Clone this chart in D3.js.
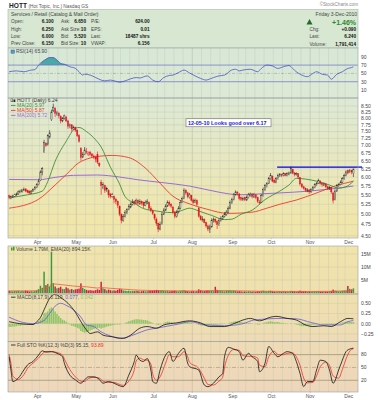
<!DOCTYPE html>
<html>
<head>
<meta charset="utf-8">
<script src="https://cdn.jsdelivr.net/npm/d3@7"></script>
<style>
  body { margin: 0; background: #fff; }
  text { font-family: "Liberation Sans", Arial, sans-serif; }
</style>
</head>
<body>
<svg id="chart" width="380" height="400"></svg>
<script>
// ---- calendar / categories ----
const firstDay = [2010, 2, 10], lastDay = [2010, 11, 3];
const holidays = ["2010-04-02", "2010-05-31", "2010-07-05", "2010-09-06", "2010-11-25"];
const monthLabels = ["Apr", "May", "Jun", "Jul", "Aug", "Sep", "Oct", "Nov", "Dec"];

// ---- daily OHLC (HOTT) ----
const closes = [5.42,5.45,5.47,5.50,5.52,5.58,5.60,5.63,5.65,5.60,
5.57,5.55,5.60,5.65,5.70,5.78,5.88,6.15,6.25,7.10,
7.00,7.35,7.45,8.25,8.45,8.20,8.22,8.10,7.90,8.00,
8.10,7.90,7.70,7.75,7.60,7.65,7.55,7.35,7.15,6.60,
6.70,6.85,6.80,6.75,6.70,6.65,6.62,6.55,6.45,6.35,
5.75,5.78,5.62,5.65,5.50,5.45,5.50,5.38,5.32,5.22,
5.00,4.85,4.95,5.05,5.12,5.20,5.25,5.30,5.27,5.35,
5.28,5.32,5.28,5.22,5.30,5.33,5.15,5.10,5.02,4.90,
4.78,4.65,4.75,5.00,5.10,5.20,5.30,5.25,5.20,5.05,
4.95,5.05,5.15,5.30,5.40,5.62,5.55,5.45,5.50,5.35,
5.30,5.35,5.25,4.95,4.87,4.88,4.80,4.72,4.65,4.70,
4.85,4.88,4.82,4.75,4.85,4.90,4.95,5.00,5.05,5.15,
5.30,5.38,5.50,5.58,5.55,5.40,5.38,5.40,5.37,5.42,
5.50,5.52,5.45,5.50,5.42,5.32,5.30,5.48,5.65,5.75,
5.82,5.95,6.05,5.88,5.85,5.95,6.05,6.08,6.05,6.10,
6.05,6.10,6.12,6.25,6.12,6.08,6.10,6.00,5.80,5.72,
5.68,5.62,5.63,5.58,5.65,5.70,5.78,5.82,5.90,5.82,
5.78,5.80,5.72,5.68,5.70,5.58,5.35,5.60,5.75,5.78,
5.85,5.95,6.05,6.15,6.12,6.18,6.15,6.24];
const opens = [5.48,5.40,5.44,5.46,5.50,5.52,5.56,5.58,5.62,5.66,
5.62,5.60,5.54,5.60,5.64,5.70,5.78,5.90,6.15,6.80,
7.08,7.05,7.30,7.95,8.30,8.40,8.15,8.20,8.08,7.90,
8.00,8.05,7.90,7.68,7.75,7.58,7.65,7.55,7.35,6.90,
6.62,6.70,6.78,6.70,6.78,6.72,6.65,6.62,6.70,6.42,
5.85,5.70,5.75,5.68,5.62,5.52,5.45,5.45,5.38,5.32,
5.20,5.00,4.85,4.95,5.05,5.12,5.18,5.25,5.32,5.28,
5.35,5.26,5.32,5.30,5.22,5.28,5.30,5.15,5.08,5.00,
4.88,4.78,4.65,4.78,5.00,5.10,5.20,5.30,5.25,5.18,
5.05,4.95,5.05,5.15,5.30,5.40,5.62,5.55,5.42,5.48,
5.36,5.30,5.35,5.15,4.95,4.85,4.88,4.80,4.72,4.65,
4.70,4.85,4.88,4.82,4.75,4.85,4.90,4.95,5.00,5.05,
5.15,5.30,5.38,5.50,5.56,5.52,5.42,5.36,5.42,5.36,
5.42,5.48,5.52,5.44,5.50,5.42,5.30,5.30,5.48,5.65,
5.75,5.82,5.95,6.02,5.90,5.85,5.95,6.05,6.08,6.05,
6.10,6.05,6.08,6.12,6.22,6.12,6.08,6.10,5.98,5.80,
5.72,5.68,5.60,5.63,5.58,5.65,5.70,5.78,5.82,5.88,
5.82,5.76,5.80,5.72,5.66,5.70,5.55,5.38,5.60,5.75,
5.78,5.85,5.95,6.05,6.20,6.18,6.20,6.10];
const highs = [5.50,5.48,5.50,5.53,5.56,5.62,5.64,5.66,5.70,5.68,
5.64,5.62,5.63,5.68,5.74,5.82,5.95,6.20,6.30,7.20,
7.12,7.40,7.55,8.35,8.60,8.45,8.30,8.25,8.12,8.05,
8.15,8.10,7.95,7.80,7.78,7.72,7.68,7.58,7.40,6.95,
6.78,6.95,6.92,6.80,6.82,6.75,6.70,6.66,6.80,6.45,
5.92,5.85,5.78,5.72,5.65,5.55,5.55,5.48,5.42,5.35,
5.22,5.02,5.00,5.10,5.15,5.25,5.30,5.38,5.35,5.40,
5.38,5.38,5.35,5.32,5.35,5.38,5.32,5.20,5.12,5.02,
4.92,4.80,4.82,5.05,5.15,5.25,5.35,5.35,5.28,5.20,
5.08,5.10,5.20,5.35,5.45,5.68,5.65,5.58,5.55,5.50,
5.40,5.40,5.38,5.18,4.98,4.95,4.90,4.82,4.75,4.75,
4.90,4.92,4.90,4.85,4.90,4.95,4.98,5.05,5.10,5.20,
5.35,5.42,5.55,5.62,5.60,5.55,5.45,5.45,5.45,5.48,
5.55,5.56,5.55,5.55,5.52,5.45,5.36,5.52,5.70,5.80,
5.85,6.00,6.12,6.05,5.95,6.00,6.10,6.12,6.10,6.14,
6.12,6.14,6.16,6.32,6.25,6.15,6.14,6.12,6.00,5.82,
5.75,5.70,5.68,5.66,5.68,5.74,5.82,5.86,5.95,5.90,
5.84,5.84,5.82,5.75,5.74,5.72,5.58,5.65,5.80,5.82,
5.90,6.00,6.10,6.20,6.22,6.24,6.22,6.25];
const lows = [5.38,5.38,5.42,5.44,5.47,5.50,5.54,5.56,5.60,5.57,
5.54,5.52,5.52,5.58,5.62,5.68,5.76,5.88,6.05,6.75,
6.95,7.00,7.25,7.90,8.25,8.05,8.10,8.00,7.80,7.85,
7.95,7.85,7.60,7.62,7.50,7.55,7.48,7.30,7.10,6.50,
6.58,6.68,6.72,6.65,6.65,6.60,6.55,6.45,6.40,6.30,
5.50,5.65,5.55,5.58,5.42,5.40,5.42,5.28,5.25,5.15,
4.95,4.78,4.82,4.92,5.00,5.10,5.15,5.22,5.22,5.25,
5.22,5.24,5.22,5.15,5.20,5.25,5.10,5.05,4.98,4.85,
4.72,4.58,4.62,4.75,4.98,5.08,5.18,5.20,5.15,5.00,
4.90,4.92,5.02,5.12,5.28,5.38,5.50,5.40,5.40,5.32,
5.26,5.28,5.20,4.92,4.85,4.82,4.78,4.68,4.60,4.56,
4.68,4.80,4.78,4.65,4.72,4.82,4.86,4.92,4.96,5.02,
5.12,5.26,5.35,5.48,5.48,5.35,5.33,5.35,5.33,5.34,
5.40,5.45,5.40,5.42,5.38,5.28,5.25,5.28,5.45,5.60,
5.70,5.80,5.92,5.85,5.82,5.82,5.92,6.00,6.00,6.02,
6.02,6.02,6.05,6.10,6.08,6.02,6.04,5.95,5.75,5.68,
5.64,5.58,5.57,5.52,5.55,5.62,5.68,5.75,5.80,5.78,
5.72,5.74,5.68,5.64,5.64,5.52,5.27,5.35,5.58,5.72,
5.76,5.82,5.92,6.02,6.08,6.12,6.08,6.00];
// daily volume, millions of shares
const volumes = [0.9,0.7,0.6,0.8,0.7,0.9,0.6,0.8,0.7,0.9,
0.8,0.6,0.7,0.6,0.8,1.0,1.5,2.8,2.0,8.2,
3.0,3.5,2.5,15.9,3.8,2.5,1.8,2.0,2.4,1.6,
1.5,2.2,1.8,1.3,1.5,1.2,1.4,1.5,1.7,3.7,
2.0,1.5,1.2,1.0,1.1,1.0,0.9,1.1,1.4,1.2,
4.3,1.8,1.5,1.0,1.3,1.1,0.9,1.0,0.9,1.2,
1.6,1.4,1.0,0.9,0.8,0.9,0.7,0.8,0.7,0.9,
0.8,0.6,0.7,0.8,0.6,0.7,0.9,0.8,0.9,1.0,
1.2,1.1,0.9,1.0,0.8,0.7,0.8,0.6,0.7,0.8,
0.9,0.7,0.6,0.8,0.9,1.1,0.8,0.7,0.6,0.7,
0.8,0.6,0.7,1.4,1.1,0.8,0.7,0.9,1.0,0.8,
0.9,0.7,2.4,1.2,0.9,0.8,0.7,0.6,0.8,0.9,
1.0,0.8,0.9,0.8,0.6,0.7,0.6,0.5,0.6,0.5,
0.7,0.6,0.5,0.6,0.5,0.7,0.6,0.8,0.9,0.7,
0.6,0.8,0.9,0.7,0.6,0.5,0.7,0.6,0.5,0.6,
0.5,0.6,0.5,0.8,0.7,0.6,0.5,0.6,0.9,0.7,
0.6,0.7,0.5,0.6,0.5,0.6,0.5,0.6,0.7,0.5,
0.6,0.5,0.6,0.5,0.6,0.8,1.3,0.9,0.8,0.6,
0.7,0.8,0.9,1.0,2.7,1.6,1.4,1.79];
// MACD histogram, daily
const macdHist = [-0.08,-0.08,-0.07,-0.07,-0.06,-0.05,-0.05,-0.04,-0.03,-0.03,
-0.02,-0.02,-0.02,-0.02,0.00,0.03,0.07,0.10,0.15,0.26,
0.27,0.30,0.37,0.40,0.36,0.30,0.24,0.19,0.14,0.10,
0.08,0.05,0.02,-0.02,-0.05,-0.06,-0.08,-0.10,-0.12,-0.18,
-0.20,-0.22,-0.21,-0.19,-0.17,-0.15,-0.13,-0.11,-0.10,-0.10,
-0.12,-0.10,-0.09,-0.07,-0.06,-0.05,-0.04,-0.03,-0.02,-0.02,
-0.02,-0.01,0.00,0.02,0.04,0.06,0.07,0.09,0.10,0.11,
0.11,0.10,0.10,0.09,0.09,0.08,0.06,0.04,0.02,0.00,
-0.02,-0.03,-0.02,0.00,0.02,0.04,0.05,0.05,0.04,0.03,
0.02,0.02,0.03,0.04,0.05,0.06,0.05,0.04,0.03,0.02,
0.01,0.00,-0.01,-0.03,-0.04,-0.05,-0.05,-0.05,-0.05,-0.04,
-0.03,-0.03,-0.03,-0.03,-0.02,-0.02,-0.01,-0.01,0.00,0.01,
0.03,0.04,0.05,0.06,0.06,0.05,0.04,0.03,0.03,0.02,
0.02,0.02,0.01,0.00,-0.01,-0.02,-0.02,0.00,0.02,0.03,
0.04,0.05,0.06,0.05,0.04,0.04,0.04,0.03,0.02,0.02,
0.01,0.01,0.00,0.01,0.00,-0.01,-0.02,-0.03,-0.05,-0.06,
-0.06,-0.06,-0.05,-0.05,-0.04,-0.03,-0.02,-0.01,0.00,0.00,
-0.01,-0.01,-0.02,-0.02,-0.02,-0.03,-0.05,-0.03,-0.01,0.00,
0.02,0.03,0.04,0.05,0.05,0.05,0.04,0.042];

// ---- indicator readings: [day index, value] ----
const ma20 = [[0,5.42],[10,5.5],[18,5.6],[21,5.87],[25,6.48],[31,7.15],[36,7.62],[38,7.65],[42,7.5],[47,7.2],[50,6.95],[55,6.3],[60,5.8],[63,5.45],[68,5.28],[73,5.14],[80,5.08],[88,5.04],[93,5.08],[98,5.15],[103,5.08],[110,4.97],[117,4.87],[121,4.88],[126,5.0],[132,5.1],[139,5.37],[147,5.6],[152,5.77],[156,5.96],[161,5.94],[167,5.88],[174,5.77],[179,5.68],[183,5.72],[187,5.88]];
const ma50 = [[0,5.15],[16,5.38],[25,5.77],[31,6.07],[38,6.44],[50,6.65],[56,6.67],[65,6.6],[74,6.27],[82,5.82],[89,5.46],[98,5.26],[107,5.13],[119,5.02],[132,5.05],[140,5.15],[147,5.25],[156,5.36],[166,5.53],[177,5.74],[187,5.88]];
const ma200 = [[0,5.93],[16,5.92],[25,5.99],[35,6.05],[48,6.06],[60,6.0],[70,5.92],[83,5.84],[98,5.74],[114,5.57],[125,5.5],[135,5.52],[147,5.55],[163,5.6],[175,5.66],[187,5.74]];
const volEma = [[0,0.8],[15,0.85],[18,1.3],[19,1.9],[22,2.2],[23,3.5],[26,3.4],[32,2.9],[38,2.5],[42,2.4],[48,1.9],[50,2.1],[55,1.8],[62,1.5],[70,1.1],[80,0.95],[90,0.85],[100,0.8],[112,0.95],[120,0.9],[135,0.7],[150,0.62],[165,0.6],[176,0.68],[185,0.85],[187,0.894]];
const rsi = [[0,54],[4,56],[8,54],[12,58],[14,59],[16,70],[18,78],[20,84],[22,88],[24,88],[26,82],[28,74],[30,72],[33,66],[36,62],[38,54],[40,46],[41,48],[44,46],[47,40],[50,34],[52,32],[55,34],[58,31],[60,29],[63,32],[66,37],[69,40],[71,39],[75,44],[78,34],[81,30],[84,40],[87,45],[89,46],[92,52],[95,58],[98,51],[101,44],[104,38],[107,34],[108,35],[111,40],[114,44],[117,46],[119,52],[120,56],[123,60],[125,56],[127,58],[131,60],[135,54],[137,62],[140,70],[143,68],[146,62],[149,66],[152,69],[154,62],[156,54],[159,46],[162,42],[165,50],[167,54],[170,48],[173,46],[175,36],[178,48],[181,54],[184,62],[186,64],[187,65.9]];
const macdLine = [[0,0.05],[6,0.0],[13,-0.02],[15,0.05],[17,0.15],[19,0.34],[22,0.62],[25,0.72],[28,0.64],[32,0.5],[36,0.28],[39,0.05],[42,-0.15],[44,-0.24],[48,-0.2],[51,-0.28],[56,-0.32],[62,-0.36],[66,-0.28],[71,-0.11],[75,-0.07],[80,-0.11],[84,-0.03],[91,0.02],[98,0.07],[104,0.02],[109,-0.07],[117,-0.07],[122,0.0],[127,0.09],[131,0.13],[136,0.07],[142,0.16],[145,0.18],[151,0.13],[156,0.09],[161,-0.03],[165,-0.07],[171,-0.05],[175,-0.07],[180,0.05],[184,0.13],[187,0.119]];
const macdSignal = [[0,0.16],[6,0.05],[13,0.0],[19,0.08],[22,0.25],[25,0.43],[28,0.5],[31,0.45],[35,0.34],[39,0.16],[42,-0.03],[46,-0.07],[50,-0.2],[55,-0.3],[60,-0.36],[64,-0.33],[69,-0.25],[75,-0.15],[80,-0.11],[86,-0.06],[93,0.0],[98,0.05],[107,-0.03],[117,-0.05],[127,0.0],[133,0.09],[149,0.13],[156,0.12],[164,0.03],[171,-0.03],[180,-0.03],[184,0.05],[187,0.077]];
const stoK = [[0,75],[1,44],[2,17],[5,25],[8,44],[10,56],[13,64],[16,79],[18,89],[20,86],[23,87],[26,83],[29,75],[30,60],[33,32],[36,21],[39,13],[41,21],[43,28],[46,28],[49,22],[51,13],[54,17],[57,13],[59,9],[62,5],[65,32],[68,64],[69,79],[71,67],[73,64],[75,71],[77,44],[78,17],[80,13],[82,44],[85,79],[87,87],[89,64],[92,83],[95,95],[97,60],[98,52],[103,44],[106,9],[108,5],[111,13],[114,28],[116,36],[117,75],[119,97],[122,93],[125,87],[127,67],[130,83],[132,75],[135,64],[136,40],[139,60],[141,99],[144,83],[146,75],[149,83],[151,87],[154,83],[156,64],[158,36],[160,5],[162,17],[165,17],[167,44],[169,67],[172,64],[174,44],[176,13],[179,44],[181,67],[183,87],[185,93],[187,95.15]];
const stoD = [[0,80],[1,60],[2,30],[5,22],[8,33],[10,48],[13,60],[16,72],[18,82],[20,87],[23,87],[26,85],[29,79],[30,70],[33,45],[36,28],[39,18],[41,17],[43,24],[46,27],[49,25],[51,18],[54,15],[57,15],[59,12],[62,8],[65,18],[68,45],[69,65],[71,72],[73,68],[75,67],[77,58],[78,35],[80,20],[82,28],[85,60],[87,80],[89,75],[92,75],[95,87],[97,75],[98,62],[103,48],[106,25],[108,10],[111,9],[114,18],[116,27],[117,50],[119,78],[122,92],[125,90],[127,78],[130,76],[132,76],[135,72],[136,55],[139,52],[141,75],[144,88],[146,80],[149,80],[151,83],[154,84],[156,75],[158,55],[160,25],[162,14],[165,15],[167,30],[169,52],[172,62],[174,55],[176,30],[179,25],[181,45],[183,70],[185,88],[187,93.89]];

// ---- tick labels ----
const priceTicks = [8.5,8.25,8.0,7.75,7.5,7.25,7.0,6.75,6.5,6.25,6.0,5.75,5.5,5.25,5.0,4.75,4.5];
const rsiTicks = [90,70,50,30,10];
const volTicks = [15,10,5];
const macdTicks = [0.5,0.25,0,-0.25];
const stoTicks = [80,50,20];
const resistance = 6.30, resistanceFrom = 146;

// ---- trading days ----
const fmt = d3.utcFormat("%Y-%m-%d");
const days = d3.utcDay.range(new Date(Date.UTC(...firstDay)), new Date(Date.UTC(...lastDay) + 864e5))
  .filter(d => d.getUTCDay() > 0 && d.getUTCDay() < 6 && !holidays.includes(fmt(d)));
const n = days.length;
const monthStarts = days.map((d, i) => i > 0 && d.getUTCMonth() !== days[i - 1].getUTCMonth() ? i : -1).filter(i => i >= 0);
const weekStarts = days.map((d, i) => i > 0 && d.getUTCDay() <= days[i - 1].getUTCDay() ? i : -1).filter(i => i >= 0);

// ---- layout ----
const L = 8, R = 358, AX = 361;
const P = {
  rsi: [48, 98], price: [98, 238], vol: [246, 294], macd: [294, 341.5], sto: [341.5, 392]
};

const svg = d3.select("#chart");
const defs = svg.append("defs");
const grad = defs.append("linearGradient").attr("id", "bg")
  .attr("gradientUnits", "userSpaceOnUse").attr("x1", 0).attr("y1", 48).attr("x2", 0).attr("y2", 392);
[[0, "#d6e8d6"], [0.15, "#dde9d6"], [0.5, "#f1e6aa"], [0.72, "#efe0ae"], [1, "#eed6bc"]]
  .forEach(s => grad.append("stop").attr("offset", s[0]).attr("stop-color", s[1]));
Object.entries(P).forEach(([k, p]) => {
  defs.append("clipPath").attr("id", "clip-" + k).append("rect")
    .attr("x", L).attr("y", p[0]).attr("width", R - L).attr("height", p[1] - p[0]);
});

const x = d3.scaleBand().domain(d3.range(n)).range([L, 354.5]).padding(0.2);
const bw = x.bandwidth();
const xc = i => x(i) + bw / 2;
const xl = i => x(i) - x.step() * 0.2 / 2;

const yPrice = d3.scaleLog().domain([4.5, 8.5]).range([235.7, 106]);
const yRsi = d3.scaleLinear().domain([0, 100]).range([94.2, 52.6]);
const yVol = d3.scaleLinear().domain([0, 5]).range([293, 280]);
const yMacd = d3.scaleLinear().domain([0, 0.25]).range([323.7, 313.5]);
const ySto = d3.scaleLinear().domain([0, 100]).range([388.8, 346.1]);

// ---- title & header ----
svg.append("text").attr("x", 9).attr("y", 7.5).attr("font-size", 6.6).attr("font-weight", "bold").attr("fill", "#222").text("HOTT");
svg.append("text").attr("x", 28.5).attr("y", 7.5).attr("font-size", 4.8).attr("fill", "#555").text("(Hot Topic, Inc.) Nasdaq GS");
svg.append("text").attr("x", 358).attr("y", 6).attr("text-anchor", "end").attr("font-size", 4.6).attr("fill", "#888").text("\u00a9StockCharts.com");

svg.append("rect").attr("x", L).attr("y", 9.5).attr("width", R - L).attr("height", 38.5)
  .attr("fill", "#d7e7d2").attr("stroke", "#a9b9a6").attr("stroke-width", 0.6);

const hdr = svg.append("g").attr("font-size", 4.7).attr("fill", "#444");
hdr.append("text").attr("x", 11).attr("y", 16).attr("font-size", 5).text("Services / Retail (Catalog & Mail Order)");
const rows = [
  ["Open:", "6.100", "Ask:", "6.650", "P/E:", "624.00"],
  ["High:", "6.250", "Ask Size:", "10", "EPS:", "0.01"],
  ["Low:", "6.000", "Bid:", "5.520", "Last:", "18487 shrs"],
  ["Prev Close:", "6.150", "Bid Size:", "10", "VWAP:", "6.156"]
];
rows.forEach((r, k) => {
  const yy = 23.3 + k * 7.3;
  hdr.append("text").attr("x", 11).attr("y", yy).text(r[0]);
  hdr.append("text").attr("x", 53.5).attr("y", yy).attr("text-anchor", "end").attr("font-weight", "bold").attr("fill", "#111").text(r[1]);
  hdr.append("text").attr("x", 61).attr("y", yy).text(r[2]);
  hdr.append("text").attr("x", 86).attr("y", yy).attr("text-anchor", "end").attr("font-weight", "bold").attr("fill", "#111").text(r[3]);
  hdr.append("text").attr("x", 91).attr("y", yy).text(r[4]);
  hdr.append("text").attr("x", 149.5).attr("y", yy).attr("text-anchor", "end").attr("font-weight", "bold").attr("fill", "#111").text(r[5]);
});
hdr.append("text").attr("x", 357).attr("y", 16).attr("text-anchor", "end").attr("font-size", 5).text("Friday  3-Dec-2010");
hdr.append("path").attr("d", "M306.5,24.5 L309.5,19 L312.5,24.5 Z").attr("fill", "#1f6e1f");
hdr.append("text").attr("x", 356).attr("y", 24.5).attr("text-anchor", "end").attr("font-size", 7).attr("font-weight", "bold").attr("fill", "#2a8a2a").text("+1.46%");
[["Chg:", "+0.090"], ["Last:", "6.240"], ["Volume:", "1,791,414"]].forEach((r, k) => {
  const yy = 31.3 + k * 7.1;
  hdr.append("text").attr("x", 309.5).attr("y", yy).text(r[0]);
  hdr.append("text").attr("x", 356).attr("y", yy).attr("text-anchor", "end").attr("font-weight", "bold").attr("fill", "#111").text(r[1]);
});

// ---- panel backgrounds + grid ----
Object.entries(P).forEach(([k, p]) => {
  svg.append("rect").attr("x", L).attr("y", p[0]).attr("width", R - L).attr("height", p[1] - p[0])
    .attr("fill", "url(#bg)");
  const g = svg.append("g");
  g.selectAll("line.w").data(weekStarts).join("line")
    .attr("x1", d => xl(d)).attr("x2", d => xl(d)).attr("y1", p[0]).attr("y2", p[1])
    .attr("stroke", d => monthStarts.includes(d) ? "#aeb49a" : "#c9ceb6").attr("stroke-width", 0.5);
});
// white axis strips
[[238, 246], [392, 400]].forEach(s => {
  svg.append("rect").attr("x", L).attr("y", s[0]).attr("width", R - L).attr("height", s[1] - s[0]).attr("fill", "#fff");
  svg.append("g").selectAll("text").data(monthStarts).join("text")
    .attr("x", d => xl(d)).attr("y", s[0] + 5.6).attr("text-anchor", "middle")
    .attr("font-size", 5).attr("fill", "#555").text((d, k) => monthLabels[k]);
  svg.append("g").selectAll("line").data(monthStarts).join("line")
    .attr("x1", d => xl(d)).attr("x2", d => xl(d)).attr("y1", s[0]).attr("y2", s[0] + 1.2)
    .attr("stroke", "#aaa").attr("stroke-width", 0.5);
});

function hlines(vals, scale, color, dash, w) {
  svg.append("g").selectAll("line").data(vals).join("line")
    .attr("x1", L).attr("x2", R).attr("y1", d => scale(d)).attr("y2", d => scale(d))
    .attr("stroke", color).attr("stroke-width", w || 0.5).attr("stroke-dasharray", dash || null);
}
function labels(vals, scale, f) {
  svg.append("g").selectAll("text").data(vals).join("text")
    .attr("x", AX).attr("y", d => scale(d) + 1.8).attr("font-size", 5).attr("fill", "#444")
    .text(f);
}

hlines(priceTicks, yPrice, "#c5cbb2");
labels(priceTicks, yPrice, d => d3.format(".2f")(d));
hlines(volTicks, yVol, "#d2c9a0");
labels(volTicks, yVol, d => d + "M");
hlines(macdTicks, yMacd, "#d4c8a2");
labels(macdTicks, yMacd, d => d3.format(".2f")(d));
labels(rsiTicks, yRsi, d => d);
labels(stoTicks, ySto, d => d);

// ---- RSI ----
const gR = svg.append("g").attr("clip-path", "url(#clip-rsi)");
const rsiCurve = d3.curveMonotoneX;
gR.append("path").datum(rsi).attr("fill", "#4ea7a7").attr("stroke", "none")
  .attr("d", d3.area().x(d => xc(d[0])).y0(yRsi(70)).y1(d => yRsi(Math.max(70, d[1]))).curve(rsiCurve));
gR.append("path").datum(rsi).attr("fill", "#4ea7a7").attr("stroke", "none")
  .attr("d", d3.area().x(d => xc(d[0])).y0(yRsi(30)).y1(d => yRsi(Math.min(30, d[1]))).curve(rsiCurve));
[70, 30].forEach(v => gR.append("line").attr("x1", L).attr("x2", R).attr("y1", yRsi(v)).attr("y2", yRsi(v))
  .attr("stroke", "#6b6fc9").attr("stroke-width", 0.7));
gR.append("line").attr("x1", L).attr("x2", R).attr("y1", yRsi(50)).attr("y2", yRsi(50))
  .attr("stroke", "#8a8f9a").attr("stroke-width", 0.5).attr("stroke-dasharray", "3,1.5,1,1.5");
gR.append("path").datum(rsi).attr("fill", "none").attr("stroke", "#3340c8").attr("stroke-width", 0.7)
  .attr("d", d3.line().x(d => xc(d[0])).y(d => yRsi(d[1])).curve(rsiCurve));
svg.append("rect").attr("x", 11).attr("y", 50).attr("width", 3.5).attr("height", 3.2).attr("fill", "#4ea7a7").attr("stroke", "#3340c8").attr("stroke-width", 0.4);
svg.append("text").attr("x", 16).attr("y", 53.3).attr("font-size", 5).attr("fill", "#445").text("RSI(14) 65.90");

// ---- price ----
const gP = svg.append("g").attr("clip-path", "url(#clip-price)");
const maLine = d3.line().x(d => xc(d[0])).y(d => yPrice(d[1])).curve(d3.curveMonotoneX);
gP.append("path").datum(ma200).attr("fill", "none").attr("stroke", "#9b6bd8").attr("stroke-width", 1).attr("d", maLine);
gP.append("path").datum(ma50).attr("fill", "none").attr("stroke", "#ec3a2e").attr("stroke-width", 0.9).attr("d", maLine);
gP.append("path").datum(ma20).attr("fill", "none").attr("stroke", "#3f8f3a").attr("stroke-width", 0.9).attr("d", maLine);

const bars = d3.range(n).map(i => ({
  i, o: opens[i], h: highs[i], l: lows[i], c: closes[i],
  up: i === 0 ? closes[0] >= opens[0] : closes[i] >= closes[i - 1]
}));
const cg = gP.append("g").selectAll("g").data(bars).join("g");
cg.each(function (d) {
  const g = d3.select(this);
  const col = d.up ? "#222" : "#e3141c";
  const top = yPrice(Math.max(d.o, d.c)), bot = yPrice(Math.min(d.o, d.c));
  g.append("line").attr("x1", xc(d.i)).attr("x2", xc(d.i)).attr("y1", yPrice(d.h)).attr("y2", top)
    .attr("stroke", col).attr("stroke-width", 0.6);
  g.append("line").attr("x1", xc(d.i)).attr("x2", xc(d.i)).attr("y1", bot).attr("y2", yPrice(d.l))
    .attr("stroke", col).attr("stroke-width", 0.6);
  const hollow = d.c >= d.o;
  g.append("rect").attr("x", x(d.i) + 0.15).attr("width", bw - 0.3)
    .attr("y", top).attr("height", Math.max(0.5, bot - top))
    .attr("fill", hollow ? "#f6f2e0" : col).attr("stroke", col).attr("stroke-width", 0.45);
});

gP.append("line").attr("x1", x(resistanceFrom)).attr("x2", AX + 1)
  .attr("y1", yPrice(resistance)).attr("y2", yPrice(resistance))
  .attr("stroke", "#0000f0").attr("stroke-width", 1.3);
svg.append("line").attr("x1", R).attr("x2", AX + 1)
  .attr("y1", yPrice(resistance)).attr("y2", yPrice(resistance))
  .attr("stroke", "#0000f0").attr("stroke-width", 1.3);

svg.append("rect").attr("x", 186).attr("y", 118.8).attr("width", 85).attr("height", 8)
  .attr("fill", "#fff").attr("stroke", "#555").attr("stroke-width", 0.5);
svg.append("text").attr("x", 188).attr("y", 124.8).attr("font-size", 5.4).attr("font-weight", "bold")
  .attr("fill", "#1a1ad0").text("12-05-10 Looks good over 6.17");

const lg = svg.append("g").attr("font-size", 5);
lg.append("rect").attr("x", 11).attr("y", 98.8).attr("width", 1.8).attr("height", 3).attr("fill", "none").attr("stroke", "#222").attr("stroke-width", 0.4);
lg.append("rect").attr("x", 13.5).attr("y", 99.5).attr("width", 1.8).attr("height", 2.5).attr("fill", "#222");
lg.append("text").attr("x", 17).attr("y", 102).attr("fill", "#333").text("HOTT (Daily) 6.24");
[["MA(20) 5.97", "#3f8f3a"], ["MA(50) 5.87", "#ec3a2e"], ["MA(200) 5.72", "#9b6bd8"]].forEach((m, k) => {
  const yy = 107 + k * 5;
  lg.append("line").attr("x1", 11).attr("x2", 15.5).attr("y1", yy - 1.6).attr("y2", yy - 1.6).attr("stroke", m[1]).attr("stroke-width", 0.9);
  lg.append("text").attr("x", 17).attr("y", yy).attr("fill", m[1]).text(m[0]);
});

// ---- volume ----
const gV = svg.append("g").attr("clip-path", "url(#clip-vol)");
gV.selectAll("rect").data(bars).join("rect")
  .attr("x", d => x(d.i)).attr("width", bw)
  .attr("y", d => yVol(volumes[d.i])).attr("height", d => yVol(0) - yVol(volumes[d.i]))
  .attr("fill", d => d.up ? "#3a9a3a" : "#cf1f45");
gV.append("path").datum(volEma).attr("fill", "none").attr("stroke", "#f05a3a").attr("stroke-width", 0.8)
  .attr("d", d3.line().x(d => xc(d[0])).y(d => yVol(d[1])).curve(d3.curveMonotoneX));
svg.append("rect").attr("x", 11).attr("y", 247.5).attr("width", 1.5).attr("height", 3).attr("fill", "#3a9a3a");
svg.append("rect").attr("x", 13).attr("y", 246.8).attr("width", 1.5).attr("height", 3.7).attr("fill", "#3a9a3a");
svg.append("text").attr("x", 16).attr("y", 250.5).attr("font-size", 5).attr("fill", "#444")
  .text("Volume 1.79M, EMA(20) 894.15K");

// ---- MACD ----
const gM = svg.append("g").attr("clip-path", "url(#clip-macd)");
gM.selectAll("rect").data(macdHist).join("rect")
  .attr("x", (d, i) => x(i)).attr("width", bw)
  .attr("y", d => Math.min(yMacd(d), yMacd(0))).attr("height", d => Math.abs(yMacd(d) - yMacd(0)))
  .attr("fill", "#8fc46a");
const mLine = d3.line().x(d => xc(d[0])).y(d => yMacd(d[1])).curve(d3.curveMonotoneX);
gM.append("path").datum(macdSignal).attr("fill", "none").attr("stroke", "#6a55e0").attr("stroke-width", 0.8).attr("d", mLine);
gM.append("path").datum(macdLine).attr("fill", "none").attr("stroke", "#111").attr("stroke-width", 0.8).attr("d", mLine);
const mt = svg.append("text").attr("x", 17).attr("y", 298.8).attr("font-size", 5).attr("fill", "#444");
svg.append("line").attr("x1", 11).attr("x2", 15.5).attr("y1", 297.2).attr("y2", 297.2).attr("stroke", "#111").attr("stroke-width", 0.8);
mt.append("tspan").text("MACD(8,17,9) 0.119, ");
mt.append("tspan").attr("fill", "#6a55e0").text("0.077");
mt.append("tspan").text(", ");
mt.append("tspan").attr("fill", "#8fc46a").text("0.042");

// ---- Full stochastics ----
const gS = svg.append("g").attr("clip-path", "url(#clip-sto)");
[80, 20].forEach(v => gS.append("line").attr("x1", L).attr("x2", R).attr("y1", ySto(v)).attr("y2", ySto(v))
  .attr("stroke", "#9c9772").attr("stroke-width", 0.8));
gS.append("line").attr("x1", L).attr("x2", R).attr("y1", ySto(50)).attr("y2", ySto(50))
  .attr("stroke", "#9c9772").attr("stroke-width", 0.6).attr("stroke-dasharray", "4,1.5,1,1.5");
const sLine = d3.line().x(d => xc(d[0])).y(d => ySto(d[1])).curve(d3.curveMonotoneX);
gS.append("path").datum(stoD).attr("fill", "none").attr("stroke", "#f0302a").attr("stroke-width", 0.8).attr("d", sLine);
gS.append("path").datum(stoK).attr("fill", "none").attr("stroke", "#111").attr("stroke-width", 0.8).attr("d", sLine);
svg.append("line").attr("x1", 11).attr("x2", 15.5).attr("y1", 345).attr("y2", 345).attr("stroke", "#111").attr("stroke-width", 0.8);
const st = svg.append("text").attr("x", 17).attr("y", 346.6).attr("font-size", 5).attr("fill", "#444");
st.append("tspan").text("Full STO %K(12,3) %D(3) 95.15, ");
st.append("tspan").attr("fill", "#f0302a").text("93.89");

// ---- panel borders ----
Object.values(P).forEach(p => {
  svg.append("rect").attr("x", L).attr("y", p[0]).attr("width", R - L).attr("height", p[1] - p[0])
    .attr("fill", "none").attr("stroke", "#9aa0a0").attr("stroke-width", 0.6);
});
</script>
</body>
</html>
